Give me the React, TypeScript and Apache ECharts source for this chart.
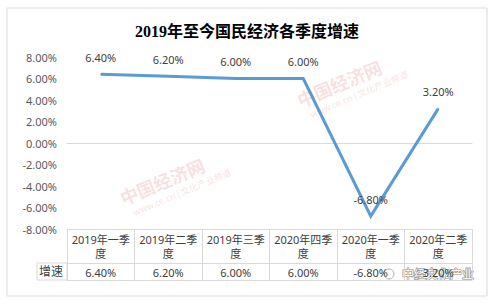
import React, { useEffect, useRef } from "react";
import * as echarts from "echarts";

// ---- data ----
const title = "2019年至今国民经济各季度增速";
const categories = [
  "2019年一季度",
  "2019年二季度",
  "2019年三季度",
  "2020年四季度",
  "2020年一季度",
  "2020年二季度",
];
const growth = [6.4, 6.2, 6.0, 6.0, -6.8, 3.2];
const seriesName = "增速";
const yMin = -8;
const yMax = 8;
const yStep = 2;

// ---- layout ----
const W = 494;
const H = 304;
const GRID_LEFT = 67;
const GRID_RIGHT = 22;
const PLOT_TOP = 57;
const PLOT_BOTTOM = 229;
const TABLE_BOTTOM = 280;
const ROW_H = 17;
const NAME_CELL_W = 30;
const LINE_COLOR = "#d9d9d9";
const FONT = "'Noto Sans', 'Noto Sans CJK SC', sans-serif";

const pct = (v: number) => v.toFixed(2) + "%";
const wrapHeader = (s: string) => s.slice(0, -1) + "\n" + s.slice(-1);

export default function App() {
  const ref = useRef<HTMLDivElement>(null);
  useEffect(() => {
    if (!ref.current) return;
    const chart = echarts.init(ref.current, undefined, { renderer: "svg" });
    const tableH = TABLE_BOTTOM - PLOT_BOTTOM;
    const wmText = (x: number, y: number) => ({
      type: "group",
      x,
      y,
      rotation: 0.4,
      silent: true,
      children: [
        {
          type: "text",
          x: 0,
          y: 0,
          style: {
            text: "中国经济网",
            fill: "rgba(215,90,90,0.2)",
            font: "bold 18px 'Noto Sans CJK SC', sans-serif",
            align: "center",
            verticalAlign: "middle",
            textAlign: "center",
            textVerticalAlign: "middle",
          },
        },
        {
          type: "text",
          x: 14,
          y: 18,
          style: {
            text: "www.ce.cn | 文化产业频道",
            fill: "rgba(215,90,90,0.2)",
            font: "9px 'Noto Sans CJK SC', sans-serif",
            align: "center",
            verticalAlign: "middle",
            textAlign: "center",
            textVerticalAlign: "middle",
          },
        },
      ],
    });
    chart.setOption({
      animation: false,
      backgroundColor: "#fff",
      title: {
        text: title,
        left: "center",
        top: 18,
        textStyle: {
          fontSize: 16,
          fontWeight: "bold",
          color: "#000",
          fontFamily: "'Liberation Serif', 'Noto Sans CJK SC', serif",
        },
      },
      grid: [
        { left: GRID_LEFT, right: GRID_RIGHT, top: PLOT_TOP, height: PLOT_BOTTOM - PLOT_TOP },
        { left: GRID_LEFT, right: GRID_RIGHT, top: PLOT_BOTTOM, height: tableH },
      ],
      xAxis: [
        {
          gridIndex: 0,
          type: "category",
          data: categories,
          boundaryGap: true,
          axisLine: { show: true, onZero: true, lineStyle: { color: LINE_COLOR, width: 1 } },
          axisTick: { show: false },
          axisLabel: { show: false },
          splitLine: { show: false },
        },
        {
          gridIndex: 1,
          type: "category",
          position: "top",
          data: categories,
          boundaryGap: true,
          axisLine: { show: true, lineStyle: { color: LINE_COLOR, width: 1 } },
          axisTick: { show: false },
          axisLabel: {
            show: true,
            inside: true,
            interval: 0,
            margin: 17,
            verticalAlign: "middle",
            formatter: (v: string) => wrapHeader(v),
            fontSize: 11,
            lineHeight: 14,
            color: "#404040",
            fontFamily: FONT,
          },
          splitLine: { show: true, interval: 0, lineStyle: { color: LINE_COLOR, width: 1 } },
        },
        {
          gridIndex: 1,
          type: "category",
          position: "bottom",
          data: growth.map(pct),
          boundaryGap: true,
          axisLine: { show: true, lineStyle: { color: LINE_COLOR, width: 1 } },
          axisTick: { show: false },
          axisLabel: {
            show: true,
            inside: true,
            interval: 0,
            margin: 8,
            verticalAlign: "middle",
            fontSize: 11,
            color: "#404040",
            fontFamily: FONT,
          },
          splitLine: { show: false },
        },
      ],
      yAxis: [
        {
          gridIndex: 0,
          type: "value",
          min: yMin,
          max: yMax,
          interval: yStep,
          axisLine: { show: false },
          axisTick: { show: false },
          splitLine: { show: false },
          axisLabel: {
            margin: 10,
            fontSize: 11,
            color: "#595959",
            fontFamily: FONT,
            formatter: (v: number) => pct(v),
          },
        },
        {
          gridIndex: 1,
          type: "category",
          data: [seriesName, "", ""],
          boundaryGap: true,
          axisLine: { show: false },
          axisTick: { show: false },
          axisLabel: {
            show: true,
            interval: 0,
            margin: 16,
            align: "center",
            fontSize: 12,
            color: "#404040",
            fontFamily: FONT,
          },
          splitLine: {
            show: true,
            interval: 0,
            lineStyle: {
              color: ["rgba(0,0,0,0)", LINE_COLOR, "rgba(0,0,0,0)", "rgba(0,0,0,0)"],
              width: 1,
            },
          },
        },
      ],
      series: [
        {
          name: seriesName,
          type: "line",
          xAxisIndex: 0,
          yAxisIndex: 0,
          data: growth,
          symbol: "circle",
          symbolSize: 1,
          itemStyle: { color: "#5b9bd5" },
          lineStyle: { color: "#5b9bd5", width: 3, join: "miter", cap: "butt" },
          label: {
            show: true,
            position: "top",
            distance: 11,
            fontSize: 11,
            color: "#404040",
            fontFamily: FONT,
            formatter: (p: any) => pct(p.value),
          },
        },
      ],
      graphic: [
        {
          type: "rect",
          shape: { x: 7, y: 8, width: W - 14, height: H - 16 },
          style: { fill: "none", stroke: LINE_COLOR, lineWidth: 1 },
          silent: true,
        },
        {
          type: "rect",
          shape: {
            x: GRID_LEFT - NAME_CELL_W,
            y: TABLE_BOTTOM - ROW_H,
            width: NAME_CELL_W,
            height: ROW_H,
          },
          style: { fill: "none", stroke: LINE_COLOR, lineWidth: 1 },
          silent: true,
        },
        wmText(162, 181),
        wmText(339, 83),
        {
          type: "circle",
          shape: { cx: 389, cy: 274, r: 5 },
          style: { fill: "rgba(255,255,255,0.85)", stroke: "#aaa", lineWidth: 1 },
          silent: true,
        },
        {
          type: "text",
          x: 402,
          y: 273,
          style: {
            text: "中经文化产业",
            fill: "#ffffff",
            stroke: "#888888",
            lineWidth: 1.2,
            font: "12px 'Noto Sans CJK SC', sans-serif",
            align: "left",
            verticalAlign: "middle",
            textAlign: "left",
            textVerticalAlign: "middle",
          },
          silent: true,
        },
      ],
    });
    return () => chart.dispose();
  }, []);
  return (
    <div
      ref={ref}
      style={{ position: "fixed", left: 0, top: 0, width: W, height: H, background: "#fff" }}
    />
  );
}
